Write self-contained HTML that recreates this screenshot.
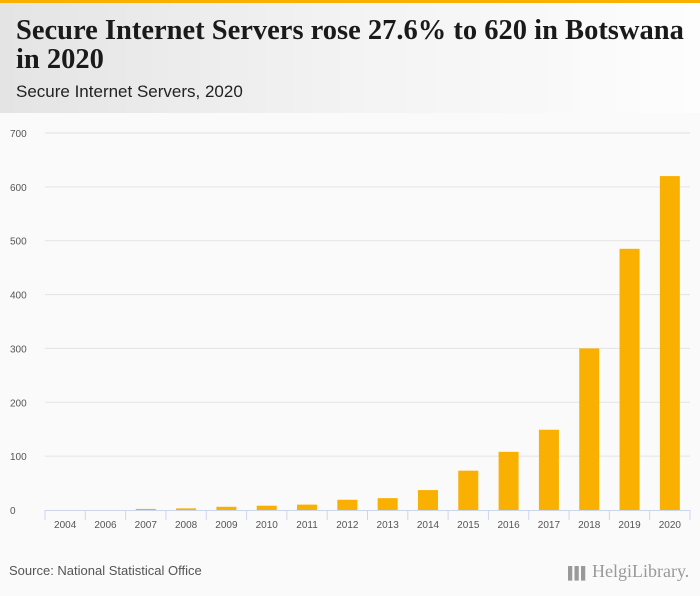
<!DOCTYPE html>
<html><head><meta charset="utf-8"><style>
html,body{margin:0;width:700px;height:596px;overflow:hidden}
body{background:#fafafa;font-family:"Liberation Sans",sans-serif;position:relative}
#topbar{position:absolute;left:0;top:0;width:700px;height:3px;background:#f9b000}
#header{position:absolute;left:0;top:3px;width:700px;height:110px;background:linear-gradient(90deg,#e4e4e4 0%,#f3f3f3 50%,#fdfdfd 100%)}
#title{position:absolute;left:16px;top:13px;font-family:"Liberation Serif",serif;font-weight:bold;font-size:28.5px;line-height:29px;color:#1a1a1a;width:682px}
#subtitle{position:absolute;left:16px;top:79px;font-size:17px;color:#222}
#source{position:absolute;left:9px;top:563px;font-size:13px;color:#555}
#logo{position:absolute;left:568px;top:561px;font-family:"Liberation Serif",serif;font-size:18px;color:#999;white-space:nowrap}
</style></head><body>
<div id="topbar"></div>
<div id="header">
<div id="title">Secure Internet Servers rose 27.6% to 620 in Botswana in 2020</div>
<div id="subtitle">Secure Internet Servers, 2020</div>
</div>
<svg id="chart" width="700" height="596" style="position:absolute;left:0;top:0"></svg>
<div id="source">Source: National Statistical Office</div>
<div id="logo"><span style="font-size:12px;letter-spacing:-2px">▌▌▌</span> HelgiLibrary.</div>
<script>
const categories=["2004","2006","2007","2008","2009","2010","2011","2012","2013","2014","2015","2016","2017","2018","2019","2020"];
const values=[0,0,2,3,6,8,10,19,22,37,73,108,149,300,485,620];
const yTicks=[0,100,200,300,400,500,600,700];
const NS="http://www.w3.org/2000/svg";
const svg=document.getElementById('chart');
const x0=45,x1=690,yBase=510,yTop=133,yMax=700;
const band=(x1-x0)/categories.length;
const y=v=>yBase-(v/yMax)*(yBase-yTop);
const xc=i=>x0+band*(i+0.5);
function mk(t,a){const e=document.createElementNS(NS,t);for(const k in a)e.setAttribute(k,a[k]);svg.appendChild(e);return e;}
yTicks.forEach(v=>{
 if(v>0){const g=mk('line',{x1:x0,x2:x1,y1:y(v),y2:y(v),stroke:'#e3e3e3','stroke-width':1});
 
 }
 const t=mk('text',{x:10,y:y(v)+4,'font-size':10,fill:'#555','font-family':'Liberation Sans, sans-serif'});
 t.textContent=v;
 
 
});
const ax=mk('line',{x1:x0,x2:x1,y1:yBase+0.5,y2:yBase+0.5,stroke:'#ccd6eb','stroke-width':1});


for(let i=0;i<=categories.length;i++){
 const tk=mk('line',{x1:x0+band*i,x2:x0+band*i,y1:yBase,y2:yBase+10,stroke:'#ccd6eb','stroke-width':1});
 
 
}
categories.forEach((c,i)=>{
 const bw=20;
 if(values[i]>0){
 const r=mk('rect',{x:xc(i)-bw/2,y:y(values[i]),width:bw,height:yBase-y(values[i]),fill:'#f9b000'});
 
 }
 const t=mk('text',{x:xc(i),y:528,'font-size':10,fill:'#555','text-anchor':'middle','font-family':'Liberation Sans, sans-serif'});
 t.textContent=c;
 
 
});
</script>
</body></html>
